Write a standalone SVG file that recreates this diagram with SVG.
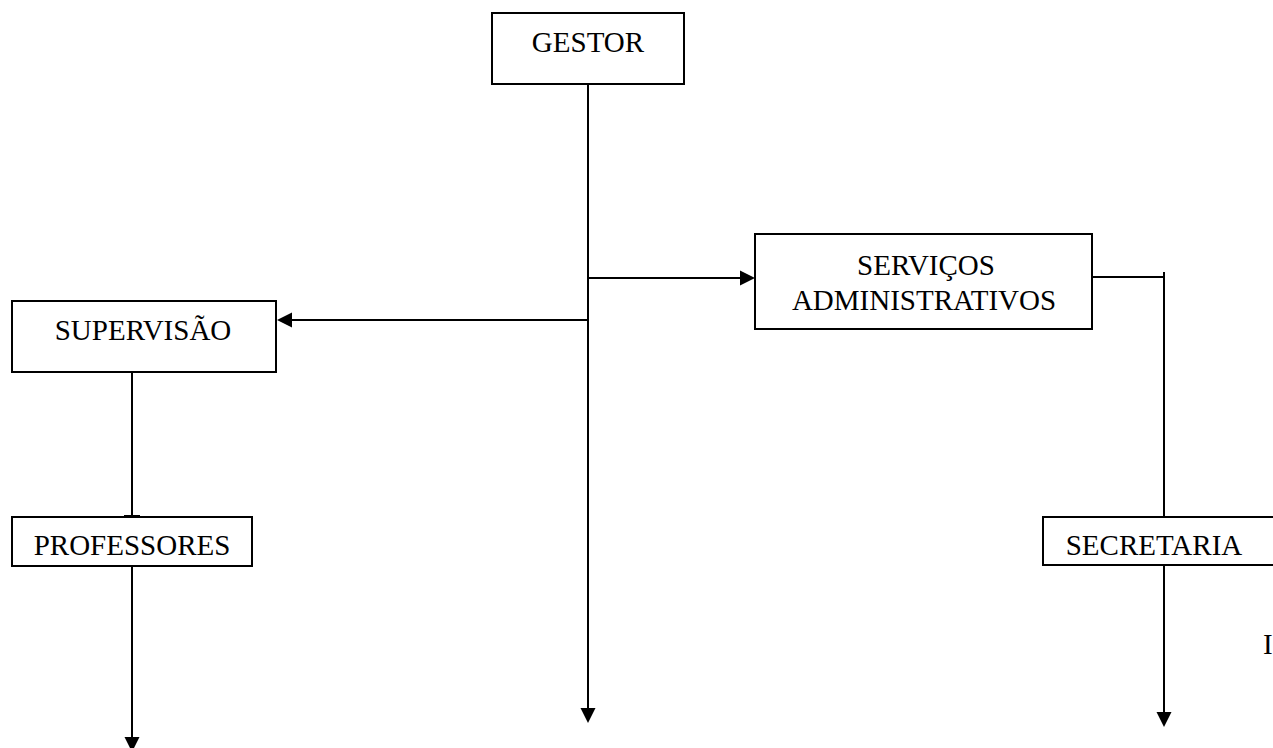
<svg xmlns="http://www.w3.org/2000/svg" width="1273" height="748" viewBox="0 0 1273 748">
<style>
.box{fill:#fff;stroke:#000;stroke-width:2}
.lbl{font-family:"Liberation Serif","Times New Roman",serif;font-size:29px;fill:#000;text-anchor:middle}
.con{fill:none;stroke:#000;stroke-width:2}
</style>
<defs>
<marker id="arr" markerUnits="userSpaceOnUse" markerWidth="16" markerHeight="16" viewBox="0 0 16 16" refX="7" refY="8" orient="auto">
<path d="M0,0.5 L15,8 L0,15.5 z" fill="#000"/>
</marker>
</defs>
<rect width="1273" height="748" fill="#fff"/>
<g id="connectors">
<path class="con" d="M588,75 V715" marker-end="url(#arr)"/>
<path class="con" d="M588,320 H285" marker-end="url(#arr)"/>
<path class="con" d="M588,278 H747" marker-end="url(#arr)"/>
<path class="con" d="M1092,277 H1164"/>
<path class="con" d="M1164,272 V517"/>
<path class="con" d="M1164,562 V719" marker-end="url(#arr)"/>
<path class="con" d="M132,368 V517"/>
<path class="con" d="M132,561 V744" marker-end="url(#arr)"/>
<path class="con" d="M124,516 H140"/>
<path class="con" d="M588,75 V84"/>
</g>
<g id="gestor">
<rect class="box" x="492" y="13" width="192" height="71"/>
<text class="lbl" x="588" y="52">GESTOR</text>
</g>
<g id="supervisao">
<rect class="box" x="12" y="301" width="264" height="71"/>
<text class="lbl" x="143" y="340">SUPERVISÃO</text>
</g>
<g id="servicos">
<rect class="box" x="755" y="234" width="337" height="95"/>
<text class="lbl" x="926" y="275">SERVIÇOS</text>
<text class="lbl" x="924" y="310">ADMINISTRATIVOS</text>
</g>
<g id="professores">
<rect class="box" x="12" y="517" width="240" height="49"/>
<text class="lbl" x="132" y="555">PROFESSORES</text>
</g>
<g id="secretaria">
<rect class="box" x="1043" y="517" width="250" height="48"/>
<text class="lbl" x="1154" y="555">SECRETARIA</text>
</g>
<text class="lbl" x="1263" y="654" style="text-anchor:start">I</text>
</svg>
